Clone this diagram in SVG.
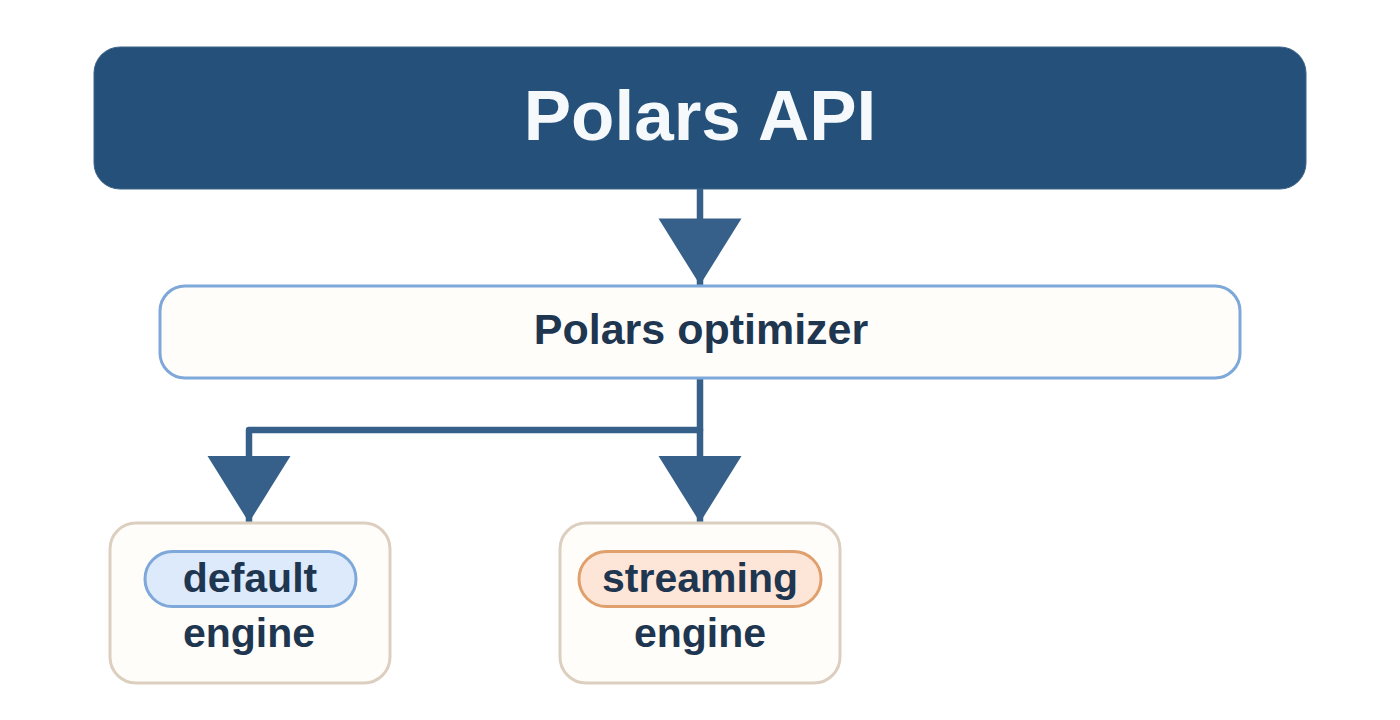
<svg xmlns="http://www.w3.org/2000/svg" width="1400" height="720" viewBox="0 0 1400 720">
  <style>
    .t { font-family: "Liberation Sans", Arial, Helvetica, sans-serif; font-weight: bold; text-anchor: middle; fill: #1f3651; }
    .conn { fill: none; stroke: #366089; stroke-width: 6.5; stroke-linecap: round; stroke-linejoin: round; }
    .engine { fill: #fffdf9; stroke: #dccfbf; stroke-width: 3; }
  </style>
  <defs>
    <marker id="arrow" markerUnits="userSpaceOnUse" markerWidth="70" markerHeight="84" viewBox="0 0 70 84" refX="68.5" refY="42" orient="auto">
      <path d="M2,0.5 L68.5,42 L2,83.5 Z" fill="#366089"/>
    </marker>
  </defs>
  <rect width="1400" height="720" fill="#ffffff"/>

  <g id="connectors">
    <path class="conn" d="M700,190 V285" marker-end="url(#arrow)"/>
    <path class="conn" d="M700,378 V522.5" marker-end="url(#arrow)"/>
    <path class="conn" d="M700,430 H249 V522.5" marker-end="url(#arrow)"/>
  </g>

  <g id="polars-api">
    <rect x="94" y="47" width="1212" height="142" rx="26" fill="#245079" stroke="#3f6489" stroke-width="1"/>
    <text class="t" x="700" y="140" font-size="71" style="fill:#f6f9fc">Polars API</text>
  </g>

  <g id="polars-optimizer">
    <rect x="160" y="286" width="1080" height="92" rx="25" fill="#fffdf9" stroke="#7ea8d9" stroke-width="3"/>
    <text class="t" x="701" y="344" font-size="43">Polars optimizer</text>
  </g>

  <g id="default-engine">
    <rect class="engine" x="110" y="523" width="280" height="160" rx="26"/>
    <rect x="145" y="551.5" width="211" height="55" rx="27.5" fill="#dceafc" stroke="#7ea8d9" stroke-width="3"/>
    <text class="t" x="250" y="592" font-size="41">default</text>
    <text class="t" x="249" y="647" font-size="41">engine</text>
  </g>

  <g id="streaming-engine">
    <rect class="engine" x="560" y="523" width="280" height="160" rx="26"/>
    <rect x="579" y="551.5" width="242" height="55" rx="27.5" fill="#fde6d8" stroke="#e0a06e" stroke-width="3"/>
    <text class="t" x="700" y="592" font-size="41">streaming</text>
    <text class="t" x="700" y="647" font-size="41">engine</text>
  </g>
</svg>
